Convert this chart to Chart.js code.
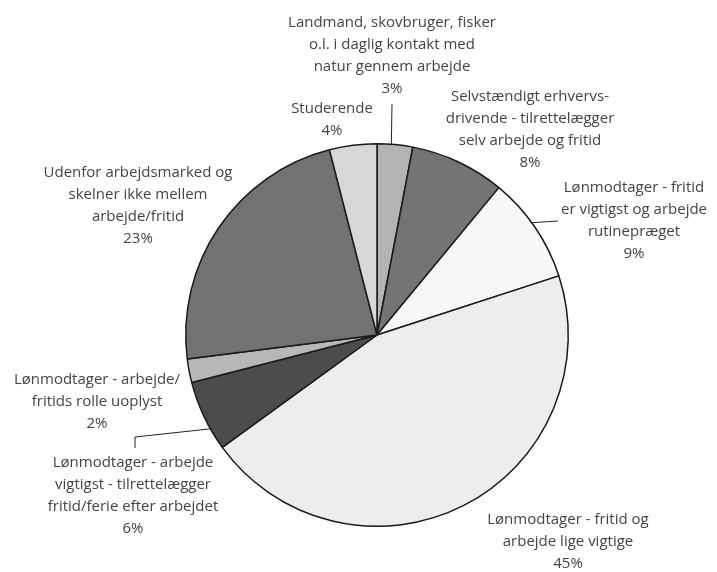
<!DOCTYPE html>
<html>
<head>
<meta charset="utf-8">
<script src="https://cdn.jsdelivr.net/npm/chart.js@4"></script>
<style>
  body { margin: 0; background: #fff; }
</style>
</head>
<body>
<canvas id="pieChart" width="717" height="572"></canvas>
<script>
// data, clockwise from 12 o'clock
const categories = [
    ['Landmand, skovbruger, fisker', 'o.l. i daglig kontakt med', 'natur gennem arbejde'],
    ['Selvstændigt erhvervs-', 'drivende - tilrettelægger', 'selv arbejde og fritid'],
    ['Lønmodtager - fritid', 'er vigtigst og arbejde', 'rutinepræget'],
    ['Lønmodtager - fritid og', 'arbejde lige vigtige'],
    ['Lønmodtager - arbejde', 'vigtigst - tilrettelægger', 'fritid/ferie efter arbejdet'],
    ['Lønmodtager - arbejde/', 'fritids rolle uoplyst'],
    ['Udenfor arbejdsmarked og', 'skelner ikke mellem', 'arbejde/fritid'],
    ['Studerende']
]
const shares = [3, 8, 9, 45, 6, 2, 23, 4]
const sliceColors = ['#b1b3b5', '#737476', '#f7f7f7', '#eceeed', '#4c4c4e', '#b5b7b9', '#717274', '#d6d8d8']

// label placement: centre x and first line y, plus optional leader line
// (points from the label, then it ends on the slice edge at fraction `at` of the slice)
const labelPos = [
    {x: 392, y: 23, leader: [[392, 104]], at: 0.4},
    {x: 530, y: 97},
    {x: 634, y: 188, leader: [[558, 221]], at: 0.44},
    {x: 568, y: 520},
    {x: 133, y: 463, leader: [[135, 448], [135, 437]], at: 0.3},
    {x: 97, y: 380},
    {x: 138, y: 173},
    {x: 332, y: 109}
]

const pieLabels = {
    id: 'pieLabels',
    afterDraw(chart) {
        const {ctx} = chart
        const arcs = chart.getDatasetMeta(0).data
        ctx.save()
        ctx.font = '15px "Open Sans"'
        ctx.fillStyle = '#444'
        ctx.textAlign = 'center'
        ctx.textBaseline = 'middle'
        const lineH = 22
        labelPos.forEach((p, i) => {
            const lines = categories[i].concat([shares[i] + '%'])
            lines.forEach((t, k) => ctx.fillText(t, p.x, p.y + k * lineH))
            if (p.leader) {
                const arc = arcs[i]
                const a = arc.startAngle + (arc.endAngle - arc.startAngle) * p.at
                const r = arc.outerRadius - 1
                ctx.beginPath()
                ctx.strokeStyle = '#222'
                ctx.lineWidth = 1
                p.leader.forEach((pt, k) => k === 0 ? ctx.moveTo(pt[0], pt[1]) : ctx.lineTo(pt[0], pt[1]))
                ctx.lineTo(arc.x + Math.cos(a) * r, arc.y + Math.sin(a) * r)
                ctx.stroke()
            }
        })
        ctx.restore()
    }
}

new Chart(document.getElementById('pieChart'), {
    type: 'pie',
    data: {
        labels: categories.map(c => c.join(' ')),
        datasets: [{
            data: shares,
            backgroundColor: sliceColors,
            borderColor: '#1a1a1a',
            borderWidth: 1.5
        }]
    },
    options: {
        responsive: false,
        animation: false,
        layout: {
            padding: {left: 185, right: 148, top: 143, bottom: 45}
        },
        plugins: {
            legend: {display: false},
            tooltip: {enabled: false}
        }
    },
    plugins: [pieLabels]
})
</script>
</body>
</html>
